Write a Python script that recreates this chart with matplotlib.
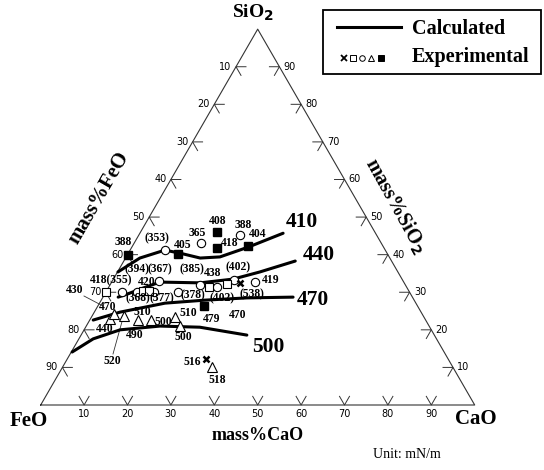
import numpy as np
import matplotlib
matplotlib.use("Agg")
import matplotlib.pyplot as plt

# ---------------- data (compositions in mass%: CaO, SiO2) ----------------
iso_values = ["410", "440", "470", "500"]
cao_410 = [0.1, 3.3, 8.0, 11.9, 17.2, 21.6, 26.8, 33.0]
sio2_410 = [35.4, 39.1, 41.2, 40.4, 39.1, 39.4, 42.0, 45.7]
cao_440 = [3.5, 5.7, 8.0, 11.1, 20.5, 27.6, 32.8, 39.5]
sio2_440 = [28.7, 29.8, 31.1, 32.7, 32.5, 33.5, 35.4, 38.3]
cao_470 = [0.8, 5.9, 15.1, 23.9, 33.3, 43.8]
sio2_470 = [22.6, 24.7, 27.1, 27.9, 28.5, 28.7]
cao_500 = [0.2, 3.3, 8.3, 17.0, 26.3, 38.2]
sio2_500 = [14.1, 17.6, 20.0, 21.0, 20.7, 18.6]

sqf_cao = [0.0, 11.6, 17.6, 19.7, 26.6, 24.5]
sqf_sio2 = [40.0, 40.2, 46.0, 41.8, 42.3, 26.3]
circ_cao = [8.0, 15.4, 23.3, 10.8, 3.7, 7.2, 11.1, 16.6, 20.8, 24.9, 27.9, 33.0]
circ_sio2 = [41.2, 43.1, 45.2, 33.0, 30.0, 30.0, 30.0, 30.0, 31.9, 31.4, 33.2, 32.7]
sqo_cao = [0.0, 8.4, 9.8, 23.1, 26.8]
sqo_sio2 = [30.0, 30.3, 30.3, 31.4, 32.2]
cross_cao = [29.7, 32.0]
cross_sio2 = [32.5, 12.2]
tri_cao = [4.5, 4.8, 7.4, 11.1, 14.1, 19.2, 21.6, 34.4]
tri_sio2 = [22.9, 24.2, 23.7, 22.6, 22.6, 23.4, 21.0, 10.1]

point_labels = ["388", "(353)", "408", "388", "365", "405", "418", "404",
                "(394)", "(367)", "(385)", "438", "(402)", "418(355)", "420",
                "430", "(368)", "(377)", "(378)", "(402)", "(538)", "419",
                "470", "510", "510", "479", "470", "500", "500", "490", "440",
                "520", "516", "518"]
tick_values = [10, 20, 30, 40, 50, 60, 70, 80, 90]

# ---------------- layout ----------------
W, H = 544, 470
X0, Y0, SC = 40.7, 405.0, 4.34
R3 = np.sqrt(3) / 2


def tern(c, s):
    c = np.asarray(c, float)
    s = np.asarray(s, float)
    return c + s / 2.0, s * R3


def P(px, py):
    return (px - X0) / SC, (Y0 - py) / SC


fig = plt.figure(figsize=(W / 100, H / 100), dpi=100)
ax = fig.add_axes([0, 0, 1, 1])
ax.set_xlim(-X0 / SC, (W - X0) / SC)
ax.set_ylim((Y0 - H) / SC, Y0 / SC)
ax.axis("off")

SERIF = "Liberation Serif"

# triangle
tx, ty = tern([0, 100, 0, 0], [0, 0, 100, 0])
ax.plot(tx, ty, color="#333333", lw=0.8, zorder=1)

# ticks
L = 2.3
for v in tick_values:
    # bottom (CaO)
    bx, by = tern([v - L, v, v], [L, 0, L])
    ax.plot(bx, by, color="#333333", lw=0.7, zorder=1)
    x, y = P(0, 414)
    ax.text(tern(v, 0)[0], y, str(v), ha="center", va="center",
            fontsize=7, family="DejaVu Sans")
    # left (FeO)
    s = 100 - v
    lx, ly = tern([L, 0, L], [s, s, s - L])
    ax.plot(lx, ly, color="#333333", lw=0.7, zorder=1)
    ex, ey = tern(0, s)
    ax.text(ex - 1.0, ey, str(v), ha="right", va="center",
            fontsize=7, family="DejaVu Sans")
    # right (SiO2)
    s = v
    c = 100 - v
    rx, ry = tern([c - L, c, c], [s, s, s - L])
    ax.plot(rx, ry, color="#333333", lw=0.7, zorder=1)
    ex, ey = tern(c, s)
    ax.text(ex + 1.0, ey, str(v), ha="left", va="center",
            fontsize=7, family="DejaVu Sans")

# iso curves
curves = [(cao_410, sio2_410), (cao_440, sio2_440),
          (cao_470, sio2_470), (cao_500, sio2_500)]
for c, s in curves:
    x, y = tern(c, s)
    ax.plot(x, y, color="black", lw=2.2, solid_capstyle="round", zorder=3)

big_pos = [(302, 222), (319, 255), (313, 300), (268, 347)]
for lab, (px, py) in zip(iso_values, big_pos):
    ax.text(*P(px, py), lab, ha="center", va="center", fontsize=15.5,
            fontweight="bold", family=SERIF)

# experimental points
mk = dict(color="black", linestyle="none", zorder=4)
x, y = tern(sqf_cao, sqf_sio2)
ax.plot(x, y, marker="s", ms=5.5, mfc="black", mec="black", **mk)
x, y = tern(circ_cao, circ_sio2)
ax.plot(x, y, marker="o", ms=6, mfc="white", mec="black", mew=0.8, **mk)
x, y = tern(sqo_cao, sqo_sio2)
ax.plot(x, y, marker="s", ms=5.5, mfc="white", mec="black", mew=0.8, **mk)
x, y = tern(tri_cao, tri_sio2)
ax.plot(x, y, marker="^", ms=6.5, mfc="white", mec="black", mew=0.8, **mk)
x, y = tern(cross_cao, cross_sio2)
ax.plot(x, y, marker="x", ms=5, mec="black", mew=1.8, **mk)

# point value labels
label_pos = [(123, 242), (157, 238), (218, 221), (243, 225), (197, 233),
             (183, 245), (230, 243), (258, 234), (137, 269), (160, 269),
             (192, 269), (213, 273), (238, 267), (111, 280), (147, 282),
             (75, 290), (138, 298), (162, 298), (193, 295), (222, 298),
             (252, 294), (271, 280), (108, 307), (142, 312), (188, 313),
             (212, 319), (238, 315), (163, 322), (183, 337), (135, 335),
             (105, 329), (112, 361), (192, 362), (217, 380)]
for lab, (px, py) in zip(point_labels, label_pos):
    ax.text(*P(px, py), lab, ha="center", va="center", fontsize=8.4,
            fontweight="bold", family=SERIF, zorder=5)

# leader lines
for (p1, p2) in [((84, 296), (103, 306)), ((113, 354), (123, 318))]:
    a = P(*p1)
    b = P(*p2)
    ax.plot([a[0], b[0]], [a[1], b[1]], color="#333333", lw=0.6, zorder=2)

# vertex and axis titles
ax.text(*P(253, 13), "SiO$_\\mathbf{2}$", ha="center", va="center", fontsize=14,
        fontweight="bold", family=SERIF)
ax.text(*P(29, 421), "FeO", ha="center", va="center", fontsize=15,
        fontweight="bold", family=SERIF)
ax.text(*P(476, 419), "CaO", ha="center", va="center", fontsize=15,
        fontweight="bold", family=SERIF)
ax.text(*P(258, 436), "mass%CaO", ha="center", va="center", fontsize=13,
        fontweight="bold", family=SERIF)
ax.text(*P(99, 198), "mass%FeO", ha="center", va="center", fontsize=15,
        fontweight="bold", family=SERIF, rotation=60, rotation_mode="anchor")
ax.text(*P(395, 206), "mass%SiO$_\\mathbf{2}$", ha="center", va="center",
        fontsize=14.5, fontweight="bold", family=SERIF, rotation=-61,
        rotation_mode="anchor")
ax.text(*P(407, 455), "Unit: mN/m", ha="center", va="center", fontsize=10,
        family=SERIF)

# legend box
bx0, by0 = P(323, 74)
bx1, by1 = P(541, 10)
ax.add_patch(plt.Rectangle((bx0, by0), bx1 - bx0, by1 - by0, fill=False,
                           lw=1.3, ec="black", zorder=6))
a = P(337, 27)
b = P(401, 27)
ax.plot([a[0], b[0]], [a[1], b[1]], color="black", lw=2.2, zorder=6)
ax.text(*P(412, 29), "Calculated", ha="left", va="center", fontsize=14.5,
        fontweight="bold", family=SERIF)
ax.text(*P(412, 57), "Experimental", ha="left", va="center", fontsize=14.5,
        fontweight="bold", family=SERIF)
leg_marks = [("x", 344, "black", 1.3), ("s", 353, "white", 0.7),
             ("o", 362, "white", 0.7), ("^", 371, "white", 0.7),
             ("s", 381, "black", 0.7)]
for m, px, fc, mw in leg_marks:
    ax.plot(*P(px, 58), marker=m, ms=4, mfc=fc, mec="black", mew=mw,
            linestyle="none", zorder=6)

fig.savefig("out.png", dpi=100)
